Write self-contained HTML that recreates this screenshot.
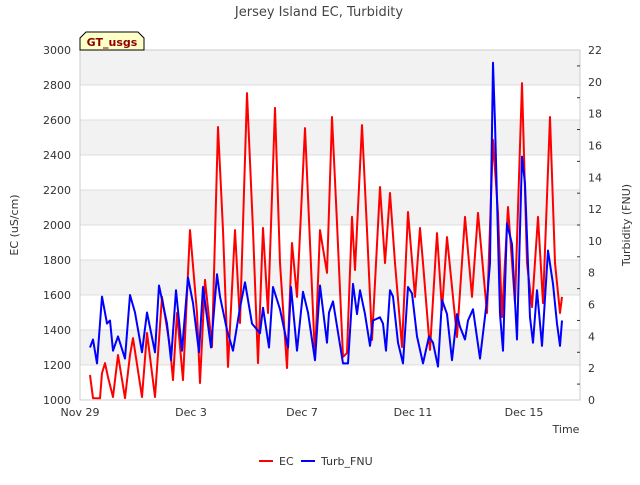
<!DOCTYPE html>
<html><head><meta charset="utf-8"><style>
body{margin:0;background:#fff;}
svg text{font-family:"DejaVu Sans","Liberation Sans",sans-serif;}
</style></head><body>
<svg id="c" width="640" height="480" xmlns="http://www.w3.org/2000/svg">
<text x="319" y="16" text-anchor="middle" font-size="13" fill="#444">Jersey Island EC, Turbidity</text>
<g id="bands"></g>
<g id="grid"></g>
<rect x="80" y="50" width="500" height="350" fill="none" stroke="#ccc"/>
<g id="ticks"></g>
<g id="series"></g>
<text transform="translate(18,225) rotate(-90)" text-anchor="middle" font-size="11" fill="#333">EC (uS/cm)</text>
<text transform="translate(630,225) rotate(-90)" text-anchor="middle" font-size="11" fill="#333">Turbidity (FNU)</text>
<text x="566" y="433" text-anchor="middle" font-size="11" fill="#333">Time</text>
<g>
<path d="M80,50 L80,38 L86,32 L138,32 L144,38 L144,50 Z" fill="#ffffc8" stroke="#000" stroke-width="1"/>
<text x="112" y="46" text-anchor="middle" font-size="11" font-weight="bold" fill="#8b0000">GT_usgs</text>
</g>
<g>
<g><line x1="259" y1="461" x2="273" y2="461" stroke="#f00" stroke-width="2"/><text x="279" y="465" font-size="11" fill="#333">EC</text></g>
<g><line x1="301" y1="461" x2="315" y2="461" stroke="#00f" stroke-width="2"/><text x="321" y="465" font-size="11" fill="#333">Turb_FNU</text></g>
</g>
</svg>
<script>
const xTickLabels=["Nov 29","Dec 3","Dec 7","Dec 11","Dec 15"];
const xTickDays=[0,4,8,12,16];
const ecTicks=[1000,1200,1400,1600,1800,2000,2200,2400,2600,2800,3000];
const turbTicks=[0,2,4,6,8,10,12,14,16,18,20,22];
const ecPx=[90,93,100,102,105,108,113,118,125,130,133,142,147,155,162,170,173,177,183,190,197,200,205,212,218,223,228,235,240,247,253,258,263,268,275,280,287,292,297,305,308,315,320,327,332,337,343,347,352,355,362,367,372,380,385,390,395,402,408,415,420,423,430,437,442,447,457,465,472,478,487,493,498,502,508,515,522,527,532,538,543,550,555,560,562];
const ecVals=[1143,1011,1010,1154,1211,1131,1017,1257,1011,1257,1354,1017,1383,1017,1589,1303,1114,1497,1114,1971,1497,1097,1686,1303,2560,1971,1189,1971,1440,2754,1971,1211,1983,1497,2669,1783,1183,1897,1589,2554,2160,1240,1971,1726,2617,2011,1246,1269,2046,1743,2571,1971,1343,2217,1783,2183,1783,1303,2074,1589,1983,1783,1286,1954,1514,1931,1360,2046,1589,2069,1497,2486,2069,1474,2103,1554,2811,1783,1531,2046,1554,2617,1783,1497,1589];
const turbPx=[90,93,97,102,107,110,113,118,125,130,135,142,147,155,159,167,171,176,182,188,193,199,203,211,217,220,227,233,240,245,252,260,263,269,273,280,288,291,297,303,308,315,320,327,329,333,343,348,353,357,360,365,370,373,380,383,386,390,393,398,403,408,412,417,423,429,433,438,442,447,452,457,460,465,468,473,480,487,490,493,495,500,503,507,512,517,522,525,530,533,537,542,548,553,557,560,562];
const turbVals=[3.3,3.8,2.3,6.5,4.8,5.0,3.1,4.0,2.6,6.6,5.5,3.0,5.5,3.0,7.2,4.8,2.5,6.9,3.1,7.7,6.1,3.0,7.1,3.3,7.9,6.5,4.4,3.1,5.8,7.4,4.8,4.2,5.8,3.3,7.1,5.7,3.3,7.1,3.1,6.8,5.5,2.5,7.2,3.6,5.5,6.2,2.3,2.3,7.3,5.4,6.9,5.4,3.4,5.0,5.2,4.8,3.1,6.9,6.5,3.6,2.3,7.1,6.7,4.0,2.3,4.0,3.6,2.1,6.3,5.4,2.5,5.4,4.6,3.8,5.0,5.7,2.6,6.3,8.6,21.2,17.4,5.4,3.1,11.1,9.8,3.8,15.3,13.6,5.2,3.6,6.9,3.4,9.4,7.3,4.8,3.4,5.0];
// times in days since Nov 29 (converted from reading positions)
const ecDays=ecPx.map(p=>(p-80)/27.75);
const turbDays=turbPx.map(p=>(p-80)/27.75);

const X0=80,X1=580,Y0=400,Y1=50;
const xs=d=>X0+d*27.75;
const yl=v=>Y0-(v-1000)/2000*(Y0-Y1);
const yr=v=>Y0-v/22*(Y0-Y1);
const NS="http://www.w3.org/2000/svg";
function mk(tag,attrs,parent){const e=document.createElementNS(NS,tag);for(const k in attrs)e.setAttribute(k,attrs[k]);document.getElementById(parent).appendChild(e);return e;}
for(let i=0;i<ecTicks.length-1;i++){
  if(i%2===1){const r=mk('rect',{x:X0,y:yl(ecTicks[i+1]),width:X1-X0,height:yl(ecTicks[i])-yl(ecTicks[i+1]),fill:'#f2f2f2'},'bands');
  
  }
}
ecTicks.forEach(v=>{
  const l=mk('line',{x1:X0,x2:X1,y1:yl(v),y2:yl(v),stroke:'#ddd'},'grid');
  
  
  const t=mk('text',{x:71,y:yl(v)+4,'text-anchor':'end','font-size':11,fill:'#333'},'ticks');t.textContent=v;
  
  
});
turbTicks.forEach(v=>{
  const t=mk('text',{x:588,y:yr(v)+4,'font-size':11,fill:'#333'},'ticks');t.textContent=v;
  
  
  if(v<22){const m=mk('line',{x1:X1-3,x2:X1,y1:yr(v+1),y2:yr(v+1),stroke:'#333'},'ticks');
  
  }
});
xTickDays.forEach((d,i)=>{
  const t=mk('text',{x:xs(d),y:416,'text-anchor':'middle','font-size':11,fill:'#333'},'ticks');t.textContent=xTickLabels[i];
  
  
});
function poly(days,vals,yf,col,name){
  const pts=days.map((d,i)=>xs(d).toFixed(1)+','+yf(vals[i]).toFixed(1)).join(' ');
  const p=mk('polyline',{points:pts,fill:'none',stroke:col,'stroke-width':2,'stroke-linejoin':'round'},'series');
  
  
}
poly(ecDays,ecVals,yl,'#f00','ec-line');
poly(turbDays,turbVals,yr,'#00f','turbidity-line');
</script>
</body></html>
